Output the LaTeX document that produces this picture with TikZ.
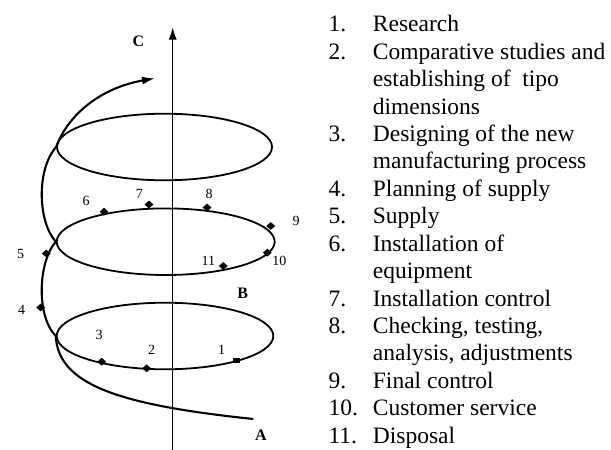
\documentclass[tikz,border=0pt]{standalone}
\usepackage{fontspec}
\setmainfont{Liberation Serif}
\usetikzlibrary{shapes.geometric,arrows.meta}
\begin{document}
\begin{tikzpicture}[x=1pt,y=-1pt,
  dia/.style={shape=diamond,fill=black,inner sep=0pt,minimum width=9pt,minimum height=8pt},
  sq/.style={shape=rectangle,fill=black,inner sep=0pt,minimum width=7pt,minimum height=5pt},
  num/.style={font=\fontsize{14}{16}\selectfont,inner sep=0pt},
  big/.style={font=\fontsize{16}{18}\selectfont\bfseries,inner sep=0pt},
  li/.style={font=\fontsize{23.5}{27}\selectfont,anchor=base west,inner sep=0pt},
  loopn/.style={shape=ellipse,draw,line width=1.8pt,inner sep=0pt,minimum height=66.6pt},
  hel/.style={line width=2.1pt},
  ]
\useasboundingbox (0,0) rectangle (611,450);
% loops
\node[loopn,minimum width=216.6pt] (E1) at (165,336) {};
\node[loopn,minimum width=218pt] (E2) at (165.7,241.7) {};
\node[loopn,minimum width=215pt] (E3) at (164.5,147) {};
% axis
\coordinate (ax0) at (172.7,450);
\coordinate (ax1) at (172.7,27.5);
\draw[line width=1pt,-{Latex[length=12pt,width=8pt]}] (ax0) -- (ax1);
% helix
\coordinate (Aend) at (253.3,419);
\coordinate (tip) at (155,78.3);
\draw[hel] (Aend) .. controls (120,405) and (58,385) .. (E1.west);
\draw[hel] (E1.west) .. controls (36,316) and (38,262) .. (E2.west);
\draw[hel] (E2.west) .. controls (38,222) and (36,170) .. (E3.west);
\draw[hel,-{Latex[length=13pt,width=8pt]}] (E3.west) .. controls (68,115) and (100,88) .. (tip);
% markers
\node[sq] (d1) at (236,360) {};
\node[dia] (d2) at (146.7,368.3) {};
\node[dia] (d3) at (101.7,361.7) {};
\node[dia] (d4) at (40.7,307.5) {};
\node[dia] (d5) at (46.3,253.5) {};
\node[dia] (d6) at (104,211.7) {};
\node[dia] (d7) at (149,204.5) {};
\node[dia] (d8) at (207,207.5) {};
\node[dia] (d9) at (270.7,226) {};
\node[dia] (d10) at (267.3,252.7) {};
\node[dia] (d11) at (223.3,266) {};
% marker labels
\node[num] (l1) at (221.7,350) {1};
\node[num] (l2) at (151.7,350) {2};
\node[num] (l3) at (99,335) {3};
\node[num] (l4) at (21.7,310) {4};
\node[num] (l5) at (20.7,254) {5};
\node[num] (l6) at (86,200.7) {6};
\node[num] (l7) at (139.3,194) {7};
\node[num] (l8) at (209,194) {8};
\node[num] (l9) at (296,220.7) {9};
\node[num] (l10) at (279.3,260.7) {10};
\node[num] (l11) at (208.3,260.7) {11};
% axis letters
\node[big] (C) at (138.3,41.7) {C};
\node[big] (B) at (242.7,293.3) {B};
\node[big] (A) at (261,435.7) {A};
% list
\node[li] (n1) at (328.3,31.7) {1.};
\node[li] (t1) at (372.7,31.7) {Research};
\node[li] (n2) at (328.3,59.14) {2.};
\node[li] (t2) at (372.7,59.14) {Comparative studies and};
\node[li] (t2b) at (372.7,86.58) {establishing of~ tipo};
\node[li] (t2c) at (372.7,114.02) {dimensions};
\node[li] (n3) at (328.3,141.46) {3.};
\node[li] (t3) at (372.7,141.46) {Designing of the new};
\node[li] (t3b) at (372.7,168.9) {manufacturing process};
\node[li] (n4) at (328.3,196.34) {4.};
\node[li] (t4) at (372.7,196.34) {Planning of supply};
\node[li] (n5) at (328.3,223.78) {5.};
\node[li] (t5) at (372.7,223.78) {Supply};
\node[li] (n6) at (328.3,251.22) {6.};
\node[li] (t6) at (372.7,251.22) {Installation of};
\node[li] (t6b) at (372.7,278.66) {equipment};
\node[li] (n7) at (328.3,306.1) {7.};
\node[li] (t7) at (372.7,306.1) {Installation control};
\node[li] (n8) at (328.3,333.54) {8.};
\node[li] (t8) at (372.7,333.54) {Checking, testing,};
\node[li] (t8b) at (372.7,360.98) {analysis, adjustments};
\node[li] (n9) at (328.3,388.42) {9.};
\node[li] (t9) at (372.7,388.42) {Final control};
\node[li] (n10) at (328.3,415.86) {10.};
\node[li] (t10) at (372.7,415.86) {Customer service};
\node[li] (n11) at (328.3,443.3) {11.};
\node[li] (t11) at (372.7,443.3) {Disposal};
\end{tikzpicture}
\end{document}
